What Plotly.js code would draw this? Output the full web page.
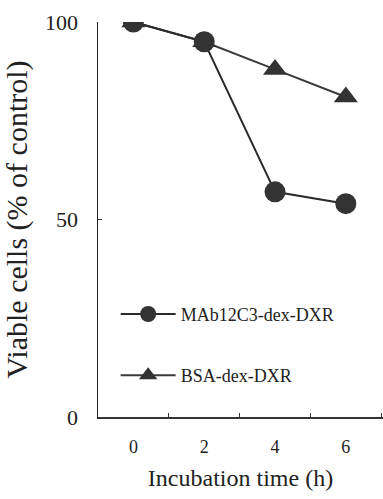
<!DOCTYPE html>
<html>
<head>
<meta charset="utf-8">
<script src="https://cdn.plot.ly/plotly-3.0.1.min.js"></script>
<style>
html,body{margin:0;padding:0;background:#fff;}
#chart{width:383px;height:499px;}
</style>
</head>
<body>
<div id="chart"></div>
<script>
var hours = [0, 2, 4, 6];
var mabValues = [100, 95, 57, 54];
var bsaValues = [100, 95, 88, 81];
var seriesNames = ['MAb12C3-dex-DXR', 'BSA-dex-DXR'];
var xTickVals = [0, 2, 4, 6];
var xTickText = ['0', '2', '4', '6'];
var xMinorTicks = [1, 3, 5, 7];
var yTickVals = [0, 50, 100];
var yTickText = ['0', '50', '100'];

var FONT = 'Liberation Serif, Times New Roman, DejaVu Serif, serif';
var INK = '#222';

var traces = [
  {
    x: hours, y: bsaValues, name: seriesNames[1], type: 'scatter', mode: 'lines+markers',
    line: {color: '#3a3a3a', width: 2},
    marker: {symbol: 'triangle-up', size: 21, color: '#333'},
    legend: 'legend2'
  },
  {
    x: hours, y: mabValues, name: seriesNames[0], type: 'scatter', mode: 'lines+markers',
    line: {color: '#2a2a2a', width: 2},
    marker: {symbol: 'circle', size: 21, color: '#333'},
    legend: 'legend'
  }
];

var legendBase = {
  bgcolor: 'rgba(0,0,0,0)', borderwidth: 0, itemwidth: 55,
  font: {family: FONT, size: 18, color: INK},
  xanchor: 'left', yanchor: 'middle'
};

var layout = {
  width: 383, height: 499,
  margin: {l: 98, r: 0, t: 22, b: 82},
  paper_bgcolor: '#fff', plot_bgcolor: '#fff',
  font: {family: FONT, color: INK},
  showlegend: true,
  legend: Object.assign({}, legendBase, {x: 0.062, y: 0.26}),
  legend2: Object.assign({}, legendBase, {x: 0.062, y: 0.105}),
  xaxis: {
    range: [-1, 7.05], showline: true, linecolor: '#333', linewidth: 2,
    showgrid: false, zeroline: false,
    tickmode: 'array', tickvals: xTickVals, ticktext: xTickText, ticks: '',
    tickfont: {family: FONT, size: 18, color: INK},
    ticklabelstandoff: 12,
    minor: {tickvals: xMinorTicks, ticks: 'inside', ticklen: 4, tickwidth: 1, tickcolor: '#333'},
    title: {text: 'Incubation time (h)', font: {family: FONT, size: 24, color: INK}, standoff: 14}
  },
  yaxis: {
    range: [0, 100], showline: true, linecolor: '#222', linewidth: 1.5,
    showgrid: false, zeroline: false,
    tickmode: 'array', tickvals: yTickVals, ticktext: yTickText,
    ticks: 'inside', ticklen: 4, tickcolor: '#333',
    tickfont: {family: FONT, size: 22, color: INK},
    ticklabelstandoff: 14,
    title: {text: 'Viable cells (% of control)', font: {family: FONT, size: 30, color: INK}, standoff: 8}
  }
};

Plotly.newPlot('chart', traces, layout, {displayModeBar: false, staticPlot: true});
</script>
</body>
</html>
